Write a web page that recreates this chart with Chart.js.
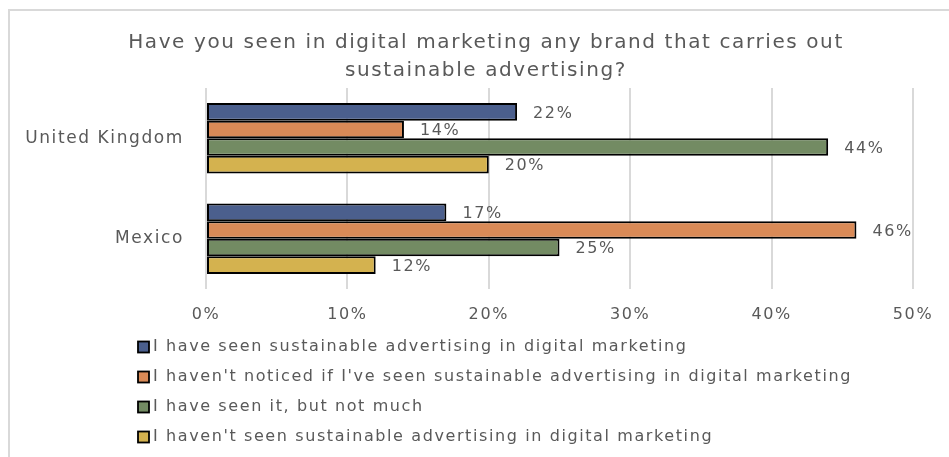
<!DOCTYPE html>
<html>
<head>
<meta charset="utf-8">
<script src="https://cdn.jsdelivr.net/npm/chart.js@4.4.1/dist/chart.umd.min.js"></script>
<style>
  html, body { margin: 0; padding: 0; background: #fff; }
  #wrap { position: relative; width: 949px; height: 457px; }
</style>
</head>
<body>
<div id="wrap"><canvas id="brands" width="949" height="457"></canvas></div>
<script>
// survey answers, percent of respondents
var countries = ['United Kingdom', 'Mexico'];
var answers = [
  'I have seen sustainable advertising in digital marketing',
  "I haven't noticed if I've seen sustainable advertising in digital marketing",
  'I have seen it, but not much',
  "I haven't seen sustainable advertising in digital marketing"
];
var seenIt = [22, 17];
var notNoticed = [14, 46];
var seenNotMuch = [44, 25];
var notSeen = [20, 12];
var xTicks = [0, 10, 20, 30, 40, 50];

var colors = ['#4b5f8d', '#d98a57', '#738b63', '#d4b24f'];
var FONT = 'DejaVu Sans';
var GREY = '#595959';
var SPACING = '1.6px';

var series = [seenIt, notNoticed, seenNotMuch, notSeen];

var data = {
  labels: countries,
  datasets: series.map(function(vals, i) {
    return {
      label: answers[i],
      data: vals,
      backgroundColor: colors[i],
      borderColor: '#000',
      borderWidth: 2,
      borderSkipped: false
    };
  })
};

// light frame on top and left, wider letter spacing for all text
var frame = {
  id: 'frame',
  afterLayout: function(chart) {
    // centre the title over the frame rather than the whole canvas
    if (chart.titleBlock) chart.titleBlock.left = 59;
  },
  beforeDraw: function(chart) {
    var c = chart.ctx;
    c.letterSpacing = SPACING;
    c.save();
    c.strokeStyle = '#d9d9d9';
    c.lineWidth = 2;
    c.beginPath();
    c.moveTo(9, 457);
    c.lineTo(9, 10);
    c.lineTo(949, 10);
    c.stroke();
    c.restore();
  }
};

// value labels just past the end of each bar
var valueLabels = {
  id: 'valueLabels',
  afterDatasetsDraw: function(chart) {
    var c = chart.ctx;
    c.save();
    c.letterSpacing = SPACING;
    c.font = '16px "' + FONT + '"';
    c.fillStyle = GREY;
    c.textAlign = 'left';
    c.textBaseline = 'middle';
    chart.data.datasets.forEach(function(ds, i) {
      chart.getDatasetMeta(i).data.forEach(function(bar, j) {
        c.fillText(ds.data[j] + '%', bar.x + 16, bar.y + 1.5);
      });
    });
    c.restore();
  }
};

// one legend entry per row under the axis
var stackedLegend = {
  id: 'stackedLegend',
  afterDraw: function(chart) {
    var c = chart.ctx;
    c.save();
    c.letterSpacing = SPACING;
    c.font = '16px "' + FONT + '"';
    c.textBaseline = 'middle';
    c.textAlign = 'left';
    chart.data.datasets.forEach(function(ds, i) {
      var y = 347 + i * 30;
      c.fillStyle = ds.backgroundColor;
      c.fillRect(138, y - 5.5, 11, 11);
      c.strokeStyle = '#000';
      c.lineWidth = 1.8;
      c.strokeRect(138, y - 5.5, 11, 11);
      c.fillStyle = GREY;
      c.fillText(ds.label, 153, y);
    });
    c.restore();
  }
};

var ctx = document.getElementById('brands').getContext('2d');

var myBarChart = new Chart(ctx, {
  type: 'bar',
  data: data,
  plugins: [frame, valueLabels, stackedLegend],
  options: {
    indexAxis: 'y',
    responsive: false,
    animation: false,
    layout: { padding: { left: 0, right: 36, top: 0, bottom: 0 } },
    datasets: { bar: { categoryPercentage: 0.7, barPercentage: 1.0 } },
    plugins: {
      legend: { display: false },
      tooltip: { enabled: false },
      title: {
        display: true,
        text: ['Have you seen in digital marketing any brand that carries out', 'sustainable advertising?'],
        color: GREY,
        font: { family: FONT, size: 20, weight: 'normal', lineHeight: 1.4 },
        padding: { top: 29, bottom: 3 }
      }
    },
    scales: {
      x: {
        min: xTicks[0],
        max: xTicks[xTicks.length - 1],
        afterBuildTicks: function(scale) {
          scale.ticks = xTicks.map(function(v) { return { value: v }; });
        },
        afterFit: function(scale) { scale.height = 457 - 88 - 201; },
        grid: { color: '#d9d9d9', lineWidth: 2, drawTicks: false },
        border: { display: false },
        ticks: {
          padding: 16,
          color: GREY,
          font: { family: FONT, size: 16 },
          callback: function(v) { return v + '%'; }
        }
      },
      y: {
        afterFit: function(scale) { scale.width = 206; },
        grid: { display: false },
        border: { display: false },
        ticks: {
          padding: 14,
          color: GREY,
          font: { family: FONT, size: 17 }
        }
      }
    }
  }
});
</script>
</body>
</html>
